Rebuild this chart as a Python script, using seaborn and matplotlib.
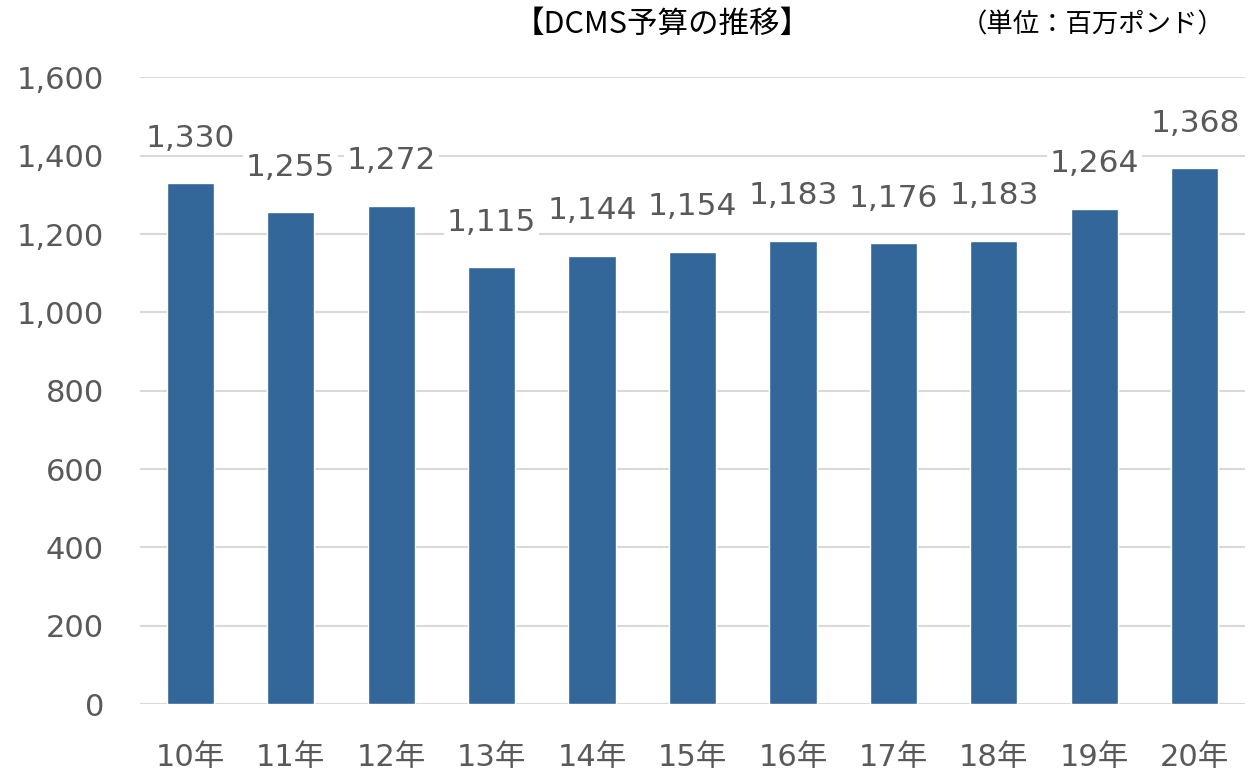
import pandas as pd
import seaborn as sns
import matplotlib.pyplot as plt

years = ["10年", "11年", "12年", "13年", "14年", "15年", "16年", "17年", "18年", "19年", "20年"]
budget = [1330, 1255, 1272, 1115, 1144, 1154, 1183, 1176, 1183, 1264, 1368]

sns.set_style("white")
plt.rcParams['font.family'] = ['DejaVu Sans', 'Noto Sans CJK JP']

df = pd.DataFrame({"year": years, "budget": budget})
gray = "#595959"

fig = plt.figure(figsize=(12.5, 7.73), dpi=100)
ax = fig.add_axes([0.112, 0.089, 0.884, 0.811])
sns.barplot(data=df, x="year", y="budget", color="#336699", width=0.47,
            saturation=1, ax=ax, zorder=3)

ax.set_ylim(0, 1600)
ax.set_yticks(range(0, 1601, 200))
ax.set_yticklabels([f"{v:,}" for v in range(0, 1601, 200)])
ax.yaxis.grid(True, color="#d9d9d9", linewidth=1.5, zorder=0)
ax.set_axisbelow(True)
ax.set_xlim(-0.5, len(years) - 0.5)
ax.set(xlabel="", ylabel="")
sns.despine(ax=ax, left=True, bottom=True)
ax.tick_params(axis="both", length=0, labelsize=22, colors=gray)
ax.tick_params(axis="x", pad=28)
ax.tick_params(axis="y", pad=26)

for i, v in enumerate(budget):
    ax.annotate(f"{v:,}", (i, v), xytext=(0, 22), textcoords="offset points",
                ha="center", va="bottom", fontsize=22.5, color=gray,
                bbox=dict(facecolor="white", edgecolor="none", pad=2), zorder=4)

fig.text(0.53, 0.968, "【DCMS予算の推移】", ha="center", va="center", fontsize=22,
         color="black", family=['Noto Sans CJK JP'])
fig.text(0.874, 0.968, "（単位：百万ポンド）", ha="center", va="center", fontsize=19,
         color="black", family=['Noto Sans CJK JP'])

fig.savefig("out.png", dpi=100)
